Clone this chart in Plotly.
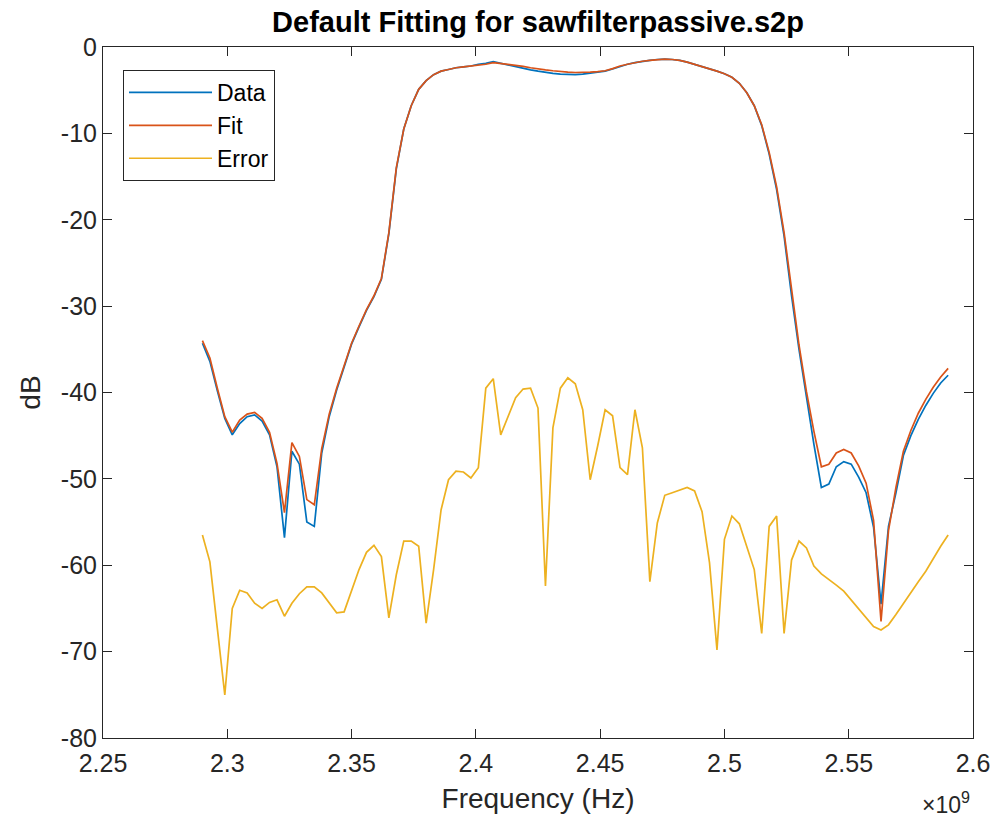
import numpy as np
import plotly.graph_objects as go

# Frequency grid of the measured file (Hz): 101 samples, 3 MHz apart
FREQ_START_HZ = 2.29e9
FREQ_STEP_HZ = 3e6
N_POINTS = 101
freq_hz = FREQ_START_HZ + FREQ_STEP_HZ * np.arange(N_POINTS)

data_db = [
    -34.3, -36.4, -39.8, -43.0, -44.9, -43.6, -42.8, -42.6, -43.3, -44.9,
    -48.6, -56.8, -46.8, -48.3, -55.0, -55.5, -47.0, -42.8, -39.7, -37.0,
    -34.4, -32.4, -30.5, -28.9, -26.9, -21.6, -14.1, -9.5, -6.8, -4.9,
    -3.9, -3.2, -2.8, -2.6, -2.4, -2.3, -2.2, -2.0, -1.9, -1.7,
    -1.9, -2.1, -2.3, -2.5, -2.65, -2.8, -2.95, -3.05, -3.15, -3.2,
    -3.2, -3.15, -3.05, -2.95, -2.8, -2.55, -2.25, -2.0, -1.8, -1.65,
    -1.55, -1.45, -1.4, -1.45, -1.55, -1.75, -2.0, -2.25, -2.55, -2.8,
    -3.1, -3.5, -4.2, -5.3, -6.8, -9.1, -12.4, -16.5, -21.9, -28.8,
    -35.0, -40.7, -46.0, -51.0, -50.6, -48.6, -48.0, -48.3, -49.8, -51.6,
    -55.6, -64.5, -55.5, -51.6, -47.3, -45.0, -43.1, -41.5, -40.1, -38.9,
    -38.0,
]

fit_db = [
    -34.0, -36.0, -39.5, -42.8, -44.6, -43.2, -42.5, -42.3, -43.0, -44.6,
    -48.2, -53.9, -45.8, -47.4, -52.4, -53.0, -46.5, -42.5, -39.5, -36.8,
    -34.3, -32.3, -30.4, -28.8, -26.8, -21.5, -14.0, -9.5, -6.8, -4.9,
    -3.9, -3.2, -2.8, -2.6, -2.4, -2.3, -2.2, -2.1, -2.0, -1.8,
    -1.9, -2.0, -2.1, -2.25, -2.4, -2.55, -2.65, -2.75, -2.85, -2.9,
    -2.95, -2.95, -2.9, -2.85, -2.75, -2.5, -2.2, -2.0, -1.8, -1.65,
    -1.55, -1.45, -1.4, -1.45, -1.55, -1.75, -2.0, -2.25, -2.55, -2.8,
    -3.1, -3.5, -4.2, -5.3, -6.8, -9.0, -12.2, -16.2, -21.5, -28.3,
    -34.5, -39.9, -44.5, -48.6, -48.3, -47.0, -46.6, -47.0, -48.5, -50.5,
    -54.8, -66.5, -56.0, -51.0, -46.8, -44.4, -42.4, -40.8, -39.4, -38.2,
    -37.2,
]

error_db = [
    -56.5, -59.6, -67.3, -75.0, -65.0, -62.9, -63.2, -64.4, -65.0, -64.3,
    -64.0, -65.9, -64.4, -63.3, -62.5, -62.5, -63.2, -64.4, -65.5, -65.4,
    -63.0, -60.5, -58.5, -57.7, -59.0, -66.1, -61.1, -57.2, -57.2, -57.8,
    -66.7, -60.5, -53.6, -50.1, -49.1, -49.2, -49.9, -48.7, -39.5, -38.4,
    -44.9, -42.7, -40.6, -39.6, -39.5, -41.8, -62.4, -44.1, -39.5, -38.3,
    -39.0, -42.0, -50.1, -46.2, -42.0, -42.7, -48.7, -49.5, -42.0, -46.4,
    -61.9, -55.1, -51.9, -51.6, -51.3, -51.0, -51.4, -53.8, -59.7, -69.8,
    -57.0, -54.3, -55.2, -57.8, -60.5, -67.9, -55.5, -54.3, -67.9, -59.4,
    -57.2, -58.0, -60.1, -61.0, -61.6, -62.3, -63.0, -64.0, -65.1, -66.1,
    -67.1, -67.5, -66.9, -65.7, -64.4, -63.2, -61.9, -60.7, -59.2, -57.8,
    -56.5,
]

x_tick_vals = [2.25e9, 2.3e9, 2.35e9, 2.4e9, 2.45e9, 2.5e9, 2.55e9, 2.6e9]
x_tick_text = ["2.25", "2.3", "2.35", "2.4", "2.45", "2.5", "2.55", "2.6"]
y_tick_vals = [0, -10, -20, -30, -40, -50, -60, -70, -80]
y_tick_text = ["0", "-10", "-20", "-30", "-40", "-50", "-60", "-70", "-80"]

COL_DATA = "#0072BD"
COL_FIT = "#D95319"
COL_ERR = "#EDB120"
AX = "#262626"
FONT = "Liberation Sans, Arial, sans-serif"

fig = go.Figure()
fig.add_trace(go.Scatter(x=freq_hz, y=data_db, mode="lines", name="Data",
                         line=dict(color=COL_DATA, width=1.7)))
fig.add_trace(go.Scatter(x=freq_hz, y=fit_db, mode="lines", name="Fit",
                         line=dict(color=COL_FIT, width=1.7)))
fig.add_trace(go.Scatter(x=freq_hz, y=error_db, mode="lines", name="Error",
                         line=dict(color=COL_ERR, width=1.7)))

W, H = 991, 821
L, R, T, B = 103, 18, 47, 83
PW, PH = W - L - R, H - T - B

fig.update_layout(
    width=W, height=H,
    margin=dict(l=L, r=R, t=T, b=B, pad=0, autoexpand=False),
    paper_bgcolor="white", plot_bgcolor="white",
    font=dict(family=FONT, color=AX, size=24),
    title=dict(text="<b>Default Fitting for sawfilterpassive.s2p</b>",
               x=(L + PW / 2) / W, xanchor="center",
               y=1 - 22 / H, yanchor="middle", yref="container",
               font=dict(family=FONT, size=29, color="#000000")),
    showlegend=True,
    legend=dict(x=20 / PW, y=1 - 23 / PH,
                xanchor="left", yanchor="top",
                bgcolor="white", bordercolor=AX, borderwidth=1,
                font=dict(family=FONT, size=23, color="#000000"),
                itemwidth=83, tracegroupgap=0),
    xaxis=dict(range=[2.25e9, 2.6e9], tickvals=x_tick_vals, ticktext=x_tick_text,
               ticks="inside", ticklen=9, tickwidth=1, tickcolor=AX,
               showline=True, linecolor=AX, linewidth=1, mirror="ticks",
               showgrid=False, zeroline=False, ticklabelstandoff=3,
               tickfont=dict(family=FONT, size=25, color=AX),
               title=dict(text="Frequency (Hz)", standoff=12,
                          font=dict(family=FONT, size=28, color=AX))),
    yaxis=dict(range=[-80, 0], tickvals=y_tick_vals, ticktext=y_tick_text,
               ticks="inside", ticklen=9, tickwidth=1, tickcolor=AX,
               showline=True, linecolor=AX, linewidth=1, mirror="ticks",
               showgrid=False, zeroline=False,
               tickfont=dict(family=FONT, size=25, color=AX),
               title=dict(text="dB", standoff=12,
                          font=dict(family=FONT, size=28, color=AX))),
)

fig.add_annotation(text="×10<sup>9</sup>", xref="paper", yref="paper",
                   x=(972 - L) / PW, y=-(803 - (H - B)) / PH,
                   xanchor="right", yanchor="middle", showarrow=False,
                   font=dict(family=FONT, size=23, color=AX))

fig.write_html(
    "out.html",
    config={"displayModeBar": False},
    post_script="document.body.style.margin='0px';document.body.style.overflow='hidden';",
)
